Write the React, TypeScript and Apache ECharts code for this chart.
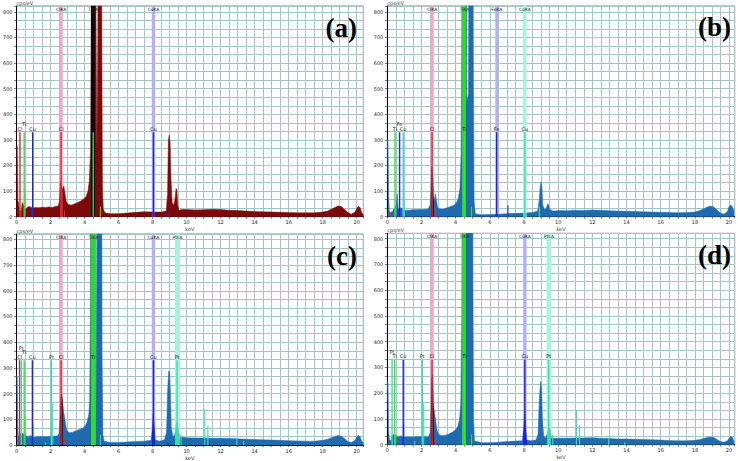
import React, { useEffect, useRef } from 'react';
import * as echarts from 'echarts';

// ---------- data (keV, counts) ----------
const spectrumA: number[][] = [
  [0, 280], [0.04, 275], [0.08, 60], [0.12, 55], [0.16, 20], [0.22, 25], [0.28, 20], [0.33, 55], [0.38, 50], [0.45, 35],
  [0.55, 30], [0.65, 38], [0.75, 40], [0.85, 35], [0.95, 33], [1.1, 36], [1.3, 35], [1.5, 37], [1.7, 36], [1.9, 38],
  [2.1, 36], [2.3, 40], [2.45, 42], [2.52, 60], [2.58, 140], [2.64, 130], [2.7, 105], [2.78, 120], [2.85, 90], [2.92, 60],
  [3.0, 50], [3.2, 45], [3.4, 50], [3.6, 55], [3.8, 62], [4.0, 72], [4.1, 80], [4.2, 100], [4.28, 140], [4.35, 260],
  [4.4, 900], [4.5, 2000], [4.62, 1500], [4.68, 700], [4.72, 250], [4.78, 700], [4.85, 2000], [4.95, 2000], [5.0, 900], [5.05, 120],
  [5.1, 30], [5.2, 15], [5.5, 12], [6.0, 12], [6.5, 14], [7.0, 17], [7.5, 19], [8.0, 18], [8.5, 18], [8.8, 22],
  [8.88, 90], [8.93, 300], [8.98, 318], [9.03, 290], [9.08, 150], [9.15, 55], [9.25, 45], [9.32, 70], [9.38, 110], [9.43, 105],
  [9.48, 45], [9.55, 25], [9.7, 28], [10, 28], [10.5, 26], [11, 27], [11.5, 29], [12, 28], [12.5, 25], [13, 24],
  [13.5, 22], [14, 20], [14.5, 19], [15, 18], [15.5, 17], [16, 16], [16.5, 15], [17, 15], [17.5, 15], [18, 18],
  [18.3, 22], [18.6, 32], [18.9, 42], [19.1, 40], [19.3, 28], [19.5, 15], [19.7, 10], [19.9, 18], [20.0, 30], [20.1, 42],
  [20.2, 35], [20.3, 15], [20.4, 8],
];
const spectrumB: number[][] = [
  [0, 305], [0.04, 300], [0.08, 80], [0.12, 20], [0.2, 15], [0.3, 20], [0.38, 30], [0.45, 35], [0.52, 45], [0.58, 90],
  [0.63, 35], [0.7, 30], [0.8, 35], [0.9, 30], [1.0, 25], [1.2, 25], [1.5, 27], [1.8, 28], [2.1, 28], [2.4, 30],
  [2.5, 45], [2.56, 115], [2.6, 195], [2.65, 170], [2.7, 80], [2.75, 60], [2.8, 90], [2.86, 70], [2.95, 35], [3.1, 30],
  [3.3, 30], [3.5, 35], [3.7, 40], [3.9, 45], [4.05, 55], [4.15, 70], [4.25, 110], [4.32, 250], [4.36, 730], [4.4, 2000],
  [4.6, 2000], [4.65, 450], [4.75, 480], [4.8, 1500], [4.88, 2000], [4.98, 2000], [5.04, 550], [5.08, 60], [5.15, 12], [5.5, 8],
  [6.0, 9], [6.5, 10], [7.0, 12], [7.5, 13], [8.0, 14], [8.5, 16], [8.8, 22], [8.9, 70], [8.95, 120], [9.0, 136],
  [9.05, 115], [9.1, 45], [9.2, 28], [9.3, 32], [9.38, 50], [9.43, 48], [9.5, 28], [9.7, 22], [10, 24], [10.5, 23],
  [11, 25], [11.5, 24], [12, 26], [12.5, 25], [13, 23], [13.5, 22], [14, 21], [14.5, 20], [15, 19], [15.5, 18],
  [16, 17], [16.5, 16], [17, 15], [17.5, 16], [18, 18], [18.3, 24], [18.6, 34], [18.9, 42], [19.1, 38], [19.3, 26],
  [19.5, 14], [19.7, 10], [19.9, 20], [20.0, 40], [20.1, 46], [20.2, 38], [20.3, 20],
];
const spectrumC: number[][] = [
  [0, 270], [0.04, 265], [0.08, 60], [0.12, 25], [0.18, 40], [0.25, 45], [0.32, 48], [0.4, 42], [0.5, 38], [0.6, 35],
  [0.7, 30], [0.8, 38], [0.9, 32], [1.0, 30], [1.2, 32], [1.5, 33], [1.8, 32], [2.1, 34], [2.4, 35], [2.5, 45],
  [2.56, 120], [2.6, 180], [2.65, 200], [2.7, 175], [2.76, 135], [2.82, 110], [2.9, 75], [2.97, 55], [3.1, 48], [3.3, 50],
  [3.5, 55], [3.7, 60], [3.9, 66], [4.05, 75], [4.15, 90], [4.25, 120], [4.3, 170], [4.34, 490], [4.4, 2000], [4.62, 2000],
  [4.68, 160], [4.72, 730], [4.78, 2000], [4.98, 2000], [5.03, 350], [5.08, 40], [5.15, 15], [5.5, 10], [6.0, 10], [6.5, 12],
  [7.0, 14], [7.5, 15], [7.9, 18], [7.98, 60], [8.04, 122], [8.1, 70], [8.16, 20], [8.4, 15], [8.7, 20], [8.82, 50],
  [8.88, 200], [8.94, 287], [9.0, 285], [9.05, 200], [9.1, 70], [9.2, 30], [9.3, 40], [9.38, 80], [9.45, 90], [9.52, 55],
  [9.6, 30], [9.8, 30], [10, 28], [10.5, 27], [11, 27], [11.5, 26], [12, 26], [12.5, 25], [13, 24], [13.5, 22],
  [14, 21], [14.5, 20], [15, 19], [15.5, 18], [16, 17], [16.5, 16], [17, 15], [17.5, 15], [18, 18], [18.3, 22],
  [18.6, 30], [18.9, 37], [19.1, 34], [19.3, 24], [19.5, 13], [19.7, 10], [19.9, 18], [20.0, 30], [20.1, 38], [20.2, 32],
  [20.3, 15], [20.4, 8],
];
const spectrumD: number[][] = [
  [0, 250], [0.04, 245], [0.08, 60], [0.12, 20], [0.2, 15], [0.28, 35], [0.35, 40], [0.42, 38], [0.5, 35], [0.6, 30],
  [0.7, 32], [0.8, 35], [0.9, 30], [1.0, 30], [1.2, 30], [1.5, 30], [1.8, 31], [2.1, 32], [2.4, 30], [2.5, 45],
  [2.56, 150], [2.6, 260], [2.65, 270], [2.7, 150], [2.75, 132], [2.82, 100], [2.9, 60], [3.0, 40], [3.2, 35], [3.4, 37],
  [3.6, 42], [3.8, 48], [4.0, 58], [4.12, 70], [4.22, 95], [4.3, 160], [4.36, 500], [4.4, 2000], [4.62, 2000], [4.68, 900],
  [4.75, 2000], [4.98, 2000], [5.01, 650], [5.05, 100], [5.1, 15], [5.5, 8], [6.0, 8], [6.5, 10], [7.0, 12], [7.5, 14],
  [7.9, 15], [7.98, 60], [8.04, 130], [8.1, 65], [8.16, 18], [8.4, 15], [8.7, 18], [8.82, 40], [8.9, 180], [8.97, 246],
  [9.03, 220], [9.08, 100], [9.15, 35], [9.25, 25], [9.35, 40], [9.45, 70], [9.52, 65], [9.6, 25], [9.8, 25], [10, 25],
  [10.5, 25], [11, 26], [11.5, 26], [12, 27], [12.5, 25], [13, 24], [13.5, 22], [14, 22], [14.5, 21], [15, 20],
  [15.5, 19], [16, 18], [16.5, 16], [17, 15], [17.5, 15], [18, 17], [18.3, 20], [18.6, 26], [18.9, 30], [19.1, 28],
  [19.3, 20], [19.5, 12], [19.7, 10], [19.9, 15], [20.0, 25], [20.1, 32], [20.2, 28], [20.3, 10],
];

// element marker lines: [keV, height, element]
const markersA: [number, number, string][] = [
  [0.2, 330, 'Cl'], [0.45, 330, 'Ti'], [0.95, 330, 'Cu'], [2.62, 330, 'Cl'], [4.51, 330, 'Ti'], [8.05, 330, 'Cu'],
  [0.26, 20, 'Cl'], [0.5, 105, 'Ti'], [0.85, 40, 'Cu'], [2.82, 25, 'Cl'], [4.93, 40, 'Ti'], [8.9, 15, 'Cu'],
];
const markersB: [number, number, string][] = [
  [0.45, 330, 'Ti'], [0.72, 330, 'Fe'], [0.93, 330, 'Cu'], [2.62, 330, 'Cl'], [4.51, 330, 'Ti'], [6.4, 330, 'Fe'], [8.05, 330, 'Cu'],
  [0.25, 20, 'Cl'], [0.5, 40, 'Ti'], [0.62, 30, 'Fe'], [1.0, 60, 'Cu'], [2.82, 20, 'Cl'], [4.93, 40, 'Ti'], [7.06, 45, 'Fe'], [8.9, 40, 'Cu'],
];
const markersC: [number, number, string][] = [
  [0.18, 330, 'Cl'], [0.28, 330, 'Pt'], [0.45, 330, 'Ti'], [0.93, 330, 'Cu'], [2.05, 330, 'Pt'], [2.62, 330, 'Cl'],
  [4.51, 330, 'Ti'], [8.05, 330, 'Cu'], [9.44, 330, 'Pt'],
  [0.5, 110, 'Ti'], [0.95, 80, 'Cu'], [1.7, 10, 'Pt'], [2.13, 160, 'Pt'], [2.82, 20, 'Cl'], [4.93, 40, 'Ti'], [8.9, 10, 'Cu'],
  [9.68, 40, 'Pt'], [11.07, 140, 'Pt'], [11.25, 75, 'Pt'], [12.95, 25, 'Pt'], [13.35, 15, 'Pt'],
];
const markersD: [number, number, string][] = [
  [0.28, 330, 'Pt'], [0.43, 330, 'Ti'], [0.93, 330, 'Cu'], [2.05, 330, 'Pt'], [2.62, 330, 'Cl'], [4.51, 330, 'Ti'],
  [8.05, 330, 'Cu'], [9.44, 330, 'Pt'],
  [0.5, 40, 'Ti'], [0.95, 80, 'Cu'], [1.6, 15, 'Pt'], [2.13, 160, 'Pt'], [2.82, 20, 'Cl'], [4.93, 40, 'Ti'], [8.9, 10, 'Cu'],
  [9.68, 40, 'Pt'], [11.07, 135, 'Pt'], [11.25, 75, 'Pt'], [12.95, 25, 'Pt'], [13.9, 10, 'Pt'],
];

// highlighted line windows: [from keV, to keV, line name]
const bandsA: [number, number, string][] = [[2.54, 2.72, 'ClKA'], [4.38, 4.62, 'TiKA'], [7.95, 8.15, 'CuKA']];
const bandsB: [number, number, string][] = [[2.54, 2.72, 'ClKA'], [4.4, 4.62, 'TiKA'], [6.32, 6.5, 'FeKA'], [7.95, 8.15, 'CuKA']];
const bandsC: [number, number, string][] = [[2.54, 2.72, 'ClKA'], [4.38, 4.65, 'TiKA'], [7.95, 8.15, 'CuKA'], [9.32, 9.62, 'PtLA']];
const bandsD: [number, number, string][] = [[2.54, 2.72, 'ClKA'], [4.4, 4.62, 'TiKA'], [7.95, 8.15, 'CuKA'], [9.32, 9.6, 'PtLA']];

const panelLetters = ['(a)', '(b)', '(c)', '(d)'];
const xTickLabels = [0, 2, 4, 6, 8, 10, 12, 14, 16, 18, 20];
const yTickLabels = [0, 100, 200, 300, 400, 500, 600, 700, 800];

// ---------- styles ----------
const RED = '#e3262e';
const GREEN = '#3ddc3d';
const BLUE = '#2424e0';
const AQUA = '#3fdcb2';
const MAROON = '#7c0a0a';
const STEEL = '#1f6bb0';
const GRID = '#a4c4c8';
const FONT = 'DejaVu Sans';

const bandFillBase: Record<string, string> = {
  ClKA: '#f6a6c8', TiKA: '#3fe43f', CuKA: '#b3b0f3', FeKA: '#b3b0f3', PtLA: '#a6f3dc',
};

const panels = [
  {
    spec: spectrumA, markers: markersA, bands: bandsA, base: MAROON,
    xMax: 20.39, yMax: 823, rect: [15.3, 4.7, 348, 212], letterPos: [357, 28],
    lineColors: { Cl: RED, Ti: GREEN, Cu: BLUE } as Record<string, string>,
    bandFill: { ...bandFillBase, TiKA: '#0b0b0b' } as Record<string, string>,
    inBand: { ClKA: '#c8202a', TiKA: '#0b0b0b', CuKA: '#3a3ab8' } as Record<string, string>,
  },
  {
    spec: spectrumB, markers: markersB, bands: bandsB, base: STEEL,
    xMax: 20.33, yMax: 823, rect: [387.3, 4.7, 347.4, 212], letterPos: [731, 27],
    lineColors: { Cl: RED, Ti: GREEN, Fe: BLUE, Cu: AQUA } as Record<string, string>,
    bandFill: { ...bandFillBase, CuKA: '#a6f3dc' } as Record<string, string>,
    inBand: { ClKA: '#4a0a12', TiKA: '#2fd62f', FeKA: '#2a2ad0', CuKA: '#3ed8b0' } as Record<string, string>,
  },
  {
    spec: spectrumC, markers: markersC, bands: bandsC, base: STEEL,
    xMax: 20.39, yMax: 821, rect: [15.3, 234, 348, 211.3], letterPos: [357, 256],
    lineColors: { Cl: RED, Ti: GREEN, Cu: BLUE, Pt: AQUA } as Record<string, string>,
    bandFill: bandFillBase,
    inBand: { ClKA: '#560a14', TiKA: '#2fd62f', CuKA: '#1a1ae0', PtLA: '#3ed8b0' } as Record<string, string>,
  },
  {
    spec: spectrumD, markers: markersD, bands: bandsD, base: STEEL,
    xMax: 20.33, yMax: 821, rect: [387.3, 233.3, 347.4, 211.4], letterPos: [731, 255],
    lineColors: { Cl: RED, Ti: GREEN, Cu: BLUE, Pt: AQUA } as Record<string, string>,
    bandFill: bandFillBase,
    inBand: { ClKA: '#560a14', TiKA: '#2fd62f', CuKA: '#1a1ae0', PtLA: '#3ed8b0' } as Record<string, string>,
  },
];

const PRIORITY = ['Cl', 'Ti', 'Cu', 'Fe', 'Pt'];
function labelLevels(markers: [number, number, string][]) {
  const levels = markers.map(() => 0);
  const placed: { x: number; lv: number }[] = [];
  const order = markers
    .map((_, i) => i)
    .filter((i) => markers[i][1] >= 300)
    .sort((i, j) => PRIORITY.indexOf(markers[i][2]) - PRIORITY.indexOf(markers[j][2]) || markers[i][0] - markers[j][0]);
  for (const i of order) {
    let lv = 0;
    while (placed.some((p) => p.lv === lv && Math.abs(p.x - markers[i][0]) < 0.32)) lv++;
    levels[i] = lv;
    placed.push({ x: markers[i][0], lv });
  }
  return levels;
}

function isTick(v: number, list: number[]) {
  const r = Math.round(v);
  return Math.abs(v - r) < 1e-6 && list.indexOf(r) >= 0;
}

export default function App() {
  const ref = useRef<HTMLDivElement>(null);
  useEffect(() => {
    if (!ref.current) return;
    const chart = echarts.init(ref.current, undefined, { renderer: 'svg' });

    const grid = panels.map((p) => ({
      left: p.rect[0], top: p.rect[1], width: p.rect[2], height: p.rect[3],
      show: true, borderColor: '#8a8a8a', borderWidth: 1, backgroundColor: '#ffffff',
    }));
    const xAxis = panels.map((p, i) => ({
      gridIndex: i, type: 'value', min: 0, max: p.xMax, interval: 0.5,
      name: 'keV', nameLocation: 'middle', nameGap: 10,
      nameTextStyle: { fontSize: 5, color: '#333', fontFamily: FONT },
      axisLine: { show: true, onZero: false, lineStyle: { color: '#000', width: 1 } },
      axisTick: { show: true, length: 2, lineStyle: { color: '#333', width: 0.6 } },
      axisLabel: {
        fontSize: 5, color: '#222', margin: 3, fontFamily: FONT,
        formatter: (v: number) => (isTick(v, xTickLabels) ? String(Math.round(v)) : ''),
      },
      splitLine: { show: true, lineStyle: { color: GRID, width: 1 } },
    }));
    const yAxis = panels.map((p, i) => ({
      gridIndex: i, type: 'value', min: 0, max: p.yMax, interval: 100 / 3,
      name: 'cps/eV', nameLocation: 'end', nameGap: 1,
      nameTextStyle: { fontSize: 5, color: '#333', align: 'left', fontFamily: FONT },
      axisLine: { show: true, lineStyle: { color: '#000', width: 1 } },
      axisTick: { show: true, length: 2.5, lineStyle: { color: '#333', width: 0.6 } },
      axisLabel: {
        fontSize: 5, color: '#222', margin: 4, fontFamily: FONT,
        formatter: (v: number) => (isTick(v, yTickLabels) ? String(Math.round(v)) : ''),
      },
      splitLine: { show: true, lineStyle: { color: GRID, width: 1 } },
    }));

    const series: any[] = [];
    panels.forEach((p, i) => {
      series.push({
        type: 'line', xAxisIndex: i, yAxisIndex: i, data: p.spec,
        symbol: 'none', showSymbol: false, clip: true, silent: true, z: 2,
        lineStyle: { width: 0.5 }, areaStyle: { opacity: 1 },
      });
    });
    panels.forEach((p, i) => {
      const yMax = p.yMax;
      // bands (behind spectrum)
      series.push({
        type: 'custom', coordinateSystem: 'cartesian2d', xAxisIndex: i, yAxisIndex: i, z: 1, silent: true,
        data: p.bands.map((b) => [b[0], b[1]]),
        renderItem: (params: any, api: any) => {
          const b = p.bands[params.dataIndex];
          const tl = api.coord([b[0], yMax]);
          const br = api.coord([b[1], 0]);
          return {
            type: 'rect',
            shape: { x: tl[0], y: tl[1], width: br[0] - tl[0], height: br[1] - tl[1] },
            style: { fill: p.bandFill[b[2]] },
          };
        },
      });
      // band labels
      series.push({
        type: 'custom', coordinateSystem: 'cartesian2d', xAxisIndex: i, yAxisIndex: i, z: 5, silent: true,
        data: p.bands.map((b) => [b[0], b[1]]),
        renderItem: (params: any, api: any) => {
          const b = p.bands[params.dataIndex];
          const tl = api.coord([b[0], yMax]);
          const br = api.coord([b[1], 0]);
          return {
            type: 'text', x: (tl[0] + br[0]) / 2, y: tl[1] + 0.8,
            style: { text: b[2], fontSize: 4.5, fontFamily: FONT, fill: '#222', align: 'center', verticalAlign: 'top' },
          };
        },
      });
      // element markers
      const levels = labelLevels(p.markers);
      series.push({
        type: 'custom', coordinateSystem: 'cartesian2d', xAxisIndex: i, yAxisIndex: i, z: 4, silent: true,
        data: p.markers.map((m) => [m[0], m[1]]),
        renderItem: (params: any, api: any) => {
          const m = p.markers[params.dataIndex];
          const p0 = api.coord([m[0], 0]);
          const p1 = api.coord([m[0], m[1]]);
          const tall = m[1] >= 300;
          const children: any[] = [
            {
              type: 'line',
              shape: { x1: p0[0], y1: p0[1], x2: p1[0], y2: p1[1] },
              style: { stroke: p.lineColors[m[2]], lineWidth: tall ? 1.4 : 1.1 },
            },
          ];
          if (tall) {
            children.push({
              type: 'text', x: p1[0], y: p1[1] - 0.8 - levels[params.dataIndex] * 4.5,
              style: { text: m[2], fontSize: 5, fontFamily: FONT, fill: '#111', align: 'center', verticalAlign: 'bottom' },
            });
          }
          return { type: 'group', children };
        },
      });
    });

    const visualMap = panels.map((p, i) => ({
      type: 'piecewise', show: false, seriesIndex: i, dimension: 0,
      pieces: p.bands.map((b) => ({ gte: b[0], lte: b[1], color: p.inBand[b[2]] })),
      outOfRange: { color: p.base },
    }));

    const graphic = panels.map((p, i) => ({
      type: 'text', x: p.letterPos[0], y: p.letterPos[1], z: 10,
      style: {
        text: panelLetters[i], fontSize: 27, fontWeight: 'bold', fontFamily: 'Liberation Serif',
        fill: '#000', align: 'right', verticalAlign: 'middle',
      },
    }));

    chart.setOption({
      animation: false,
      backgroundColor: '#ffffff',
      grid, xAxis, yAxis, series, visualMap, graphic,
    });
    return () => chart.dispose();
  }, []);
  return <div ref={ref} style={{ position: 'absolute', left: 0, top: 0, width: 738, height: 461 }} />;
}
